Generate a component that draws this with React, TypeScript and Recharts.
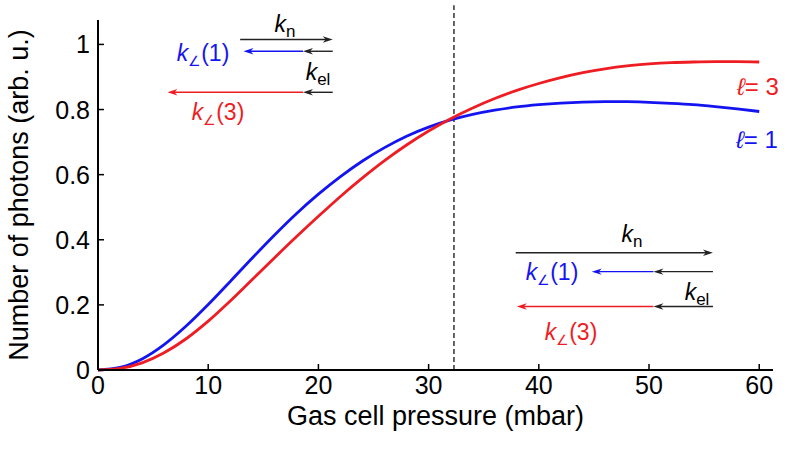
import { LineChart, Line, XAxis, YAxis, ReferenceLine } from "recharts";

// gas cell pressure (mbar)
const pressure = [
  0, 2, 4, 6, 8, 10, 12, 14, 16, 18, 20, 22, 24, 26, 28, 30,
  32, 34, 36, 38, 40, 42, 44, 46, 48, 50, 52, 54, 56, 58, 60,
];
// number of photons, l = 1
const photonsL1 = [
  0, 0.008, 0.034, 0.078, 0.135, 0.201, 0.272, 0.344, 0.414, 0.48, 0.54,
  0.594, 0.642, 0.683, 0.718, 0.746, 0.768, 0.785, 0.798, 0.808, 0.815,
  0.82, 0.823, 0.824, 0.824, 0.822, 0.819, 0.815, 0.809, 0.802, 0.794,
];
// number of photons, l = 3
const photonsL3 = [
  0, 0.005, 0.022, 0.053, 0.096, 0.15, 0.212, 0.278, 0.344, 0.409, 0.472,
  0.533, 0.59, 0.643, 0.691, 0.734, 0.772, 0.805, 0.834, 0.859, 0.88,
  0.898, 0.913, 0.925, 0.934, 0.94, 0.944, 0.946, 0.947, 0.947, 0.946,
];

const xTicks = [0, 10, 20, 30, 40, 50, 60];
const yTicks = [0, 0.2, 0.4, 0.6, 0.8, 1];
const yTickLabels = ["0", "0.2", "0.4", "0.6", "0.8", "1"];
const crossingPressure = 32.3;

const BLUE = "#1414f0";
const RED = "#ee1d23";
const FONT = '"Liberation Sans", Arial, Helvetica, sans-serif';

const data = pressure.map((p, i) => ({
  p,
  l1: photonsL1[i],
  l3: photonsL3[i],
}));

// rate arrows, in data units [xFrom, xTo, y, colour]
const arrows: [number, number, number, string][] = [
  [12.9, 21.3, 1.015, "#222"],
  [18.6, 13.2, 0.979, BLUE],
  [21.3, 18.6, 0.979, "#222"],
  [18.6, 6.3, 0.853, RED],
  [21.3, 18.6, 0.853, "#222"],
  [37.9, 55.8, 0.36, "#222"],
  [50.4, 44.8, 0.302, BLUE],
  [55.8, 50.4, 0.302, "#222"],
  [50.4, 38.0, 0.195, RED],
  [55.8, 50.4, 0.195, "#222"],
];

const arrowShape = (color: string) => (props: any) => {
  const { x1, y1, x2, y2 } = props;
  const d = Math.sign(x2 - x1) || 1;
  const len = 10;
  const half = 3.2;
  return (
    <g>
      <line x1={x1} y1={y1} x2={x2 - d * 6} y2={y2} stroke={color} strokeWidth={1.4} />
      <polygon
        points={`${x2},${y2} ${x2 - d * len},${y2 - half} ${x2 - d * len * 0.7},${y2} ${x2 - d * len},${y2 + half}`}
        fill={color}
      />
    </g>
  );
};

const XTick = (props: any) => {
  const { x, y, payload } = props;
  return (
    <g>
      <line x1={x} y1={370} x2={x} y2={364} stroke="#000" strokeWidth={1.5} />
      <text x={x} y={y} dy="0.71em" textAnchor="middle" fontSize={25} fontFamily={FONT} fill="#000">
        {payload.value}
      </text>
    </g>
  );
};

const YTick = (props: any) => {
  const { x, y, payload, index } = props;
  return (
    <g>
      <line x1={98} y1={y} x2={104} y2={y} stroke="#000" strokeWidth={1.5} />
      <text x={x} y={y} dy="0.36em" textAnchor="end" fontSize={25} fontFamily={FONT} fill="#000">
        {yTickLabels[index] ?? payload.value}
      </text>
    </g>
  );
};

const Rate = ({ sub, tail, color, cx, cy }: any) => (
  <div
    style={{
      position: "absolute",
      left: cx,
      top: cy,
      transform: "translate(-50%, -50%)",
      color,
      fontFamily: FONT,
      fontSize: 23,
      lineHeight: 1,
      whiteSpace: "nowrap",
    }}
  >
    <i>k</i>
    <span style={{ fontSize: sub === "∠" ? 14 : 17, position: "relative", top: 5 }}>{sub}</span>
    {tail}
  </div>
);

const Ell = ({ n, color, cx, cy }: any) => (
  <div
    style={{
      position: "absolute",
      left: cx,
      top: cy,
      transform: "translate(-50%, -50%)",
      color,
      fontFamily: FONT,
      fontSize: 24,
      lineHeight: 1,
      whiteSpace: "nowrap",
    }}
  >
    <i>ℓ</i>= {n}
  </div>
);

export default function App() {
  return (
    <div style={{ position: "absolute", left: 0, top: 0, width: 788, height: 457, background: "#fff" }}>
      <LineChart width={788} height={457} data={data} margin={{ top: 20, right: 15, bottom: 0, left: 0 }}>
        <XAxis
          dataKey="p"
          type="number"
          domain={[0, 61.25]}
          ticks={xTicks}
          height={87}
          tickSize={0}
          tickMargin={6}
          tickLine={false}
          axisLine={{ stroke: "#000", strokeWidth: 2 }}
          tick={<XTick />}
          label={{
            value: "Gas cell pressure (mbar)",
            position: "insideBottom",
            offset: 32,
            fontSize: 27,
            fontFamily: FONT,
            fill: "#000",
          }}
        />
        <YAxis
          type="number"
          domain={[0, 1.075]}
          ticks={yTicks}
          width={98}
          tickSize={0}
          tickMargin={8}
          tickLine={false}
          axisLine={{ stroke: "#000", strokeWidth: 2 }}
          tick={<YTick />}
          label={{
            value: "Number of photons (arb. u.)",
            angle: -90,
            position: "insideLeft",
            offset: 18,
            fontSize: 27,
            fontFamily: FONT,
            fill: "#000",
            style: { textAnchor: "middle" },
          }}
        />
        <ReferenceLine
          segment={[{ x: crossingPressure, y: 0 }, { x: crossingPressure, y: 1.12 }]}
          ifOverflow="visible"
          stroke="#000"
          strokeWidth={1.2}
          strokeDasharray="5 3"
        />
        {arrows.map(([a, b, y, c], i) => (
          <ReferenceLine
            key={i}
            segment={[{ x: a, y }, { x: b, y }]}
            ifOverflow="visible"
            shape={arrowShape(c)}
          />
        ))}
        <Line type="monotone" dataKey="l1" stroke={BLUE} strokeWidth={2.8} dot={false} isAnimationActive={false} />
        <Line type="monotone" dataKey="l3" stroke={RED} strokeWidth={2.8} dot={false} isAnimationActive={false} />
      </LineChart>

      <Rate sub="n" color="#000" cx={285} cy={24} />
      <Rate sub="∠" tail="(1)" color={BLUE} cx={203} cy={53} />
      <Rate sub="el" color="#000" cx={318} cy={72} />
      <Rate sub="∠" tail="(3)" color={RED} cx={218} cy={112} />

      <Rate sub="n" color="#000" cx={632} cy={234} />
      <Rate sub="∠" tail="(1)" color={BLUE} cx={552} cy={272} />
      <Rate sub="el" color="#000" cx={697} cy={292} />
      <Rate sub="∠" tail="(3)" color={RED} cx={571} cy={332} />

      <Ell n={3} color={RED} cx={758} cy={87} />
      <Ell n={1} color={BLUE} cx={757} cy={140} />
    </div>
  );
}
